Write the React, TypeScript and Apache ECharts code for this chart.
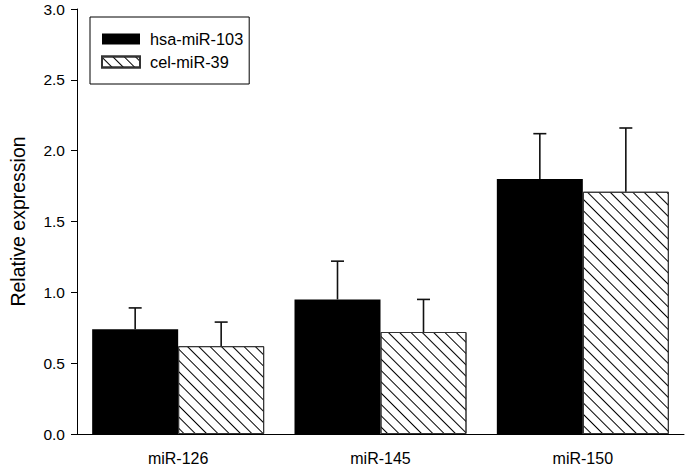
import React, { useEffect, useRef } from "react";
import * as echarts from "echarts";

const categories = ["miR-126", "miR-145", "miR-150"];
const seriesNames = ["hsa-miR-103", "cel-miR-39"];
const hsaValues = [0.74, 0.95, 1.8];
const hsaErrors = [0.15, 0.27, 0.32];
const celValues = [0.62, 0.72, 1.71];
const celErrors = [0.17, 0.23, 0.45];
const yTicks = [0, 0.5, 1.0, 1.5, 2.0, 2.5, 3.0];

const FONT = "Liberation Sans, Arial, sans-serif";
const BAR_W = 86;

export default function App() {
  const ref = useRef<HTMLDivElement>(null);
  useEffect(() => {
    document.body.style.margin = "0";
    const chart = echarts.init(ref.current!, null, { renderer: "svg" });
    const errData = (vals: number[], errs: number[], idx: number) =>
      vals.map((v, i) => [i, v, v + errs[i], idx]);
    const renderErr = (params: any, api: any) => {
      const i = api.value(0);
      const side = api.value(3) === 0 ? -1 : 1;
      const base = api.coord([i, api.value(1)]);
      const top = api.coord([i, api.value(2)]);
      const x = base[0] + (side * BAR_W) / 2;
      const style = { stroke: "#111", lineWidth: 1.6 };
      return {
        type: "group",
        children: [
          { type: "line", shape: { x1: x, y1: base[1], x2: x, y2: top[1] }, style },
          { type: "line", shape: { x1: x - 6.5, y1: top[1], x2: x + 6.5, y2: top[1] }, style },
        ],
      };
    };
    chart.setOption({
      animation: false,
      backgroundColor: "#fff",
      grid: { left: 72, right: 1, top: 9, bottom: 34 },
      legend: {
        orient: "vertical",
        left: 90,
        top: 17,
        padding: [14, 6, 14, 11],
        borderColor: "#000",
        borderWidth: 1,
        itemWidth: 38,
        itemHeight: 11,
        itemGap: 7,
        textStyle: { fontFamily: FONT, fontSize: 16.3, color: "#000", padding: [0, 0, 0, 5] },
        data: [
          { name: seriesNames[0], icon: "rect" },
          { name: seriesNames[1], icon: "rect" },
        ],
      },
      xAxis: {
        type: "category",
        data: categories,
        axisLine: { lineStyle: { color: "#000", width: 1 } },
        axisTick: { alignWithLabel: true, length: 5, lineStyle: { color: "#000" } },
        axisLabel: { fontFamily: FONT, fontSize: 16, color: "#000", margin: 16 },
      },
      yAxis: {
        type: "value",
        min: 0,
        max: 3,
        interval: 0.5,
        name: "Relative expression",
        nameLocation: "middle",
        nameGap: 49,
        nameTextStyle: { fontFamily: FONT, fontSize: 19.5, color: "#000" },
        axisLine: { show: true, lineStyle: { color: "#000", width: 1 } },
        axisTick: { show: true, length: 6, lineStyle: { color: "#000" } },
        splitLine: { show: false },
        axisLabel: {
          fontFamily: FONT,
          fontSize: 15.5,
          color: "#000",
          margin: 12,
          formatter: (v: number) => (yTicks.includes(v) ? v.toFixed(1) : ""),
        },
      },
      series: [
        {
          name: seriesNames[0],
          type: "bar",
          data: hsaValues,
          barWidth: BAR_W,
          barGap: "0%",
          itemStyle: { color: "#000" },
        },
        {
          name: seriesNames[1],
          type: "bar",
          data: celValues,
          barWidth: BAR_W,
          barGap: "0%",
          itemStyle: {
            color: "#fff",
            borderColor: "#333",
            borderWidth: 1,
            decal: {
              symbol: "rect",
              symbolSize: 1,
              dashArrayX: [1, 0],
              dashArrayY: [1, 7],
              rotation: Math.PI / 4,
              color: "#000",
              backgroundColor: "#fff",
            },
          },
        },
        {
          type: "custom",
          renderItem: renderErr,
          data: errData(hsaValues, hsaErrors, 0),
          encode: { x: 0, y: [1, 2] },
          z: 3,
        },
        {
          type: "custom",
          renderItem: renderErr,
          data: errData(celValues, celErrors, 1),
          encode: { x: 0, y: [1, 2] },
          z: 3,
        },
      ],
    });
    return () => chart.dispose();
  }, []);
  return <div ref={ref} style={{ width: 685, height: 468 }} />;
}
